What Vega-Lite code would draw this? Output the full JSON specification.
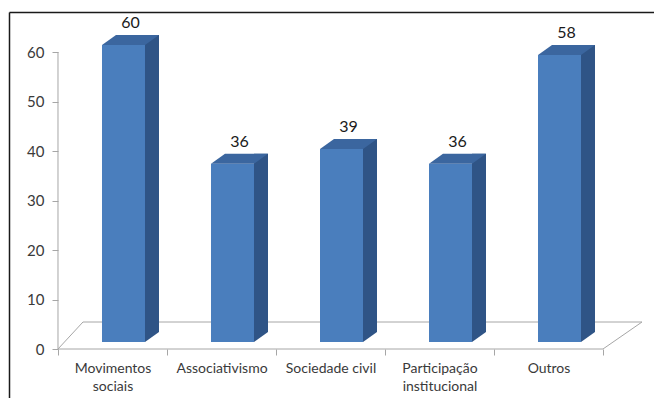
{
  "$schema": "https://vega.github.io/schema/vega-lite/v6.json",
  "width": 645,
  "height": 386,
  "autosize": "none",
  "padding": {"left": 9, "top": 12, "right": 0, "bottom": 0},
  "background": "white",
  "config": {
    "view": {"stroke": null},
    "font": "Lato",
    "axis": {"grid": false}
  },
  "data": {
    "values": [
      {"categoria": "Movimentos sociais", "total": 60},
      {"categoria": "Associativismo", "total": 36},
      {"categoria": "Sociedade civil", "total": 39},
      {"categoria": "Participação institucional", "total": 36},
      {"categoria": "Outros", "total": 58}
    ]
  },
  "layer": [
    {
      "description": "Floor of the 3D plot, also carrying the chart frame (top and left edges)",
      "data": {"values": [{}]},
      "mark": {
        "type": "point",
        "shape": "M0,0 L25,-27 L584,-27 L545,0 Z",
        "size": 4,
        "filled": false,
        "stroke": "#A6A6A6",
        "strokeWidth": 1,
        "opacity": 1,
        "clip": false
      },
      "encoding": {
        "x": {
          "datum": "Movimentos sociais",
          "type": "nominal",
          "bandPosition": 0,
          "axis": {"orient": "top", "offset": 0, "domain": true, "domainColor": "#1A1A1A", "domainWidth": 1.5, "ticks": false, "labels": false, "title": null}
        },
        "y": {
          "datum": 0,
          "type": "quantitative",
          "axis": {"orient": "left", "offset": 0, "domain": true, "domainColor": "#1A1A1A", "domainWidth": 1.5, "ticks": false, "labels": false, "title": null}
        }
      }
    },
    {
      "description": "Vertical value axis line",
      "data": {"values": [{}]},
      "mark": {"type": "rule", "color": "#A6A6A6", "strokeWidth": 1},
      "encoding": {
        "x": {"datum": "Movimentos sociais", "type": "nominal", "bandPosition": 0, "axis": null},
        "y": {"datum": 60, "type": "quantitative", "axis": null},
        "y2": {"datum": 0}
      }
    },
    {
      "description": "Front faces of the columns",
      "mark": {"type": "bar", "width": 43, "xOffset": 11, "yOffset": -7, "y2Offset": -7, "color": "#4A7EBD", "clip": false},
      "encoding": {
        "x": {
          "field": "categoria",
          "type": "nominal",
          "sort": null,
          "scale": {
            "type": "band",
            "domain": ["Movimentos sociais", "Associativismo", "Sociedade civil", "Participação institucional", "Outros"],
            "paddingInner": 0,
            "paddingOuter": 0.4587,
            "align": 0.49
          },
          "axis": {
            "orient": "bottom",
            "offset": -49,
            "domain": false,
            "tickBand": "extent",
            "tickSize": 6,
            "tickColor": "#A6A6A6",
            "labelAngle": 0,
            "labelPadding": 6,
            "labelFontSize": 14,
            "labelColor": "#3A3A3A",
            "labelLineHeight": 18,
            "labelOverlap": false,
            "labelExpr": "length(datum.label) > 16 ? split(datum.label, ' ') : datum.label",
            "title": null
          }
        },
        "y": {
          "field": "total",
          "type": "quantitative",
          "scale": {"domain": [-9.899, 68.081], "nice": false, "zero": false},
          "axis": {
            "orient": "left",
            "offset": -49,
            "domain": false,
            "values": [0, 10, 20, 30, 40, 50, 60],
            "tickSize": 6,
            "tickColor": "#A6A6A6",
            "labelPadding": 8,
            "labelFontSize": 15,
            "labelColor": "#3A3A3A",
            "title": null
          }
        },
        "y2": {"datum": 0}
      }
    },
    {
      "description": "Right side faces of the columns",
      "mark": {"type": "bar", "width": 14, "xOffset": 39.5, "yOffset": -17, "y2Offset": -17, "color": "#2F5486", "clip": false},
      "encoding": {
        "x": {"field": "categoria", "type": "nominal", "sort": null, "axis": null},
        "y": {"field": "total", "type": "quantitative", "axis": null},
        "y2": {"datum": 0}
      }
    },
    {
      "description": "Lower corner of each side face",
      "mark": {"type": "point", "shape": "M0,0 L0,-10 L14,-10 Z", "size": 4, "filled": true, "opacity": 1, "color": "#2F5486", "xOffset": 32.5, "yOffset": -7, "clip": false},
      "encoding": {
        "x": {"field": "categoria", "type": "nominal", "sort": null, "axis": null},
        "y": {"datum": 0, "type": "quantitative", "axis": null}
      }
    },
    {
      "description": "Top faces of the columns",
      "mark": {"type": "point", "shape": "M-21.5,0 L21.5,0 L35.5,-10 L-7.5,-10 Z", "size": 4, "filled": true, "opacity": 1, "color": "#3B669F", "xOffset": 11, "yOffset": -7, "clip": false},
      "encoding": {
        "x": {"field": "categoria", "type": "nominal", "sort": null, "axis": null},
        "y": {"field": "total", "type": "quantitative", "axis": null}
      }
    },
    {
      "description": "Value labels above the columns",
      "mark": {"type": "text", "fontSize": 16, "color": "#1A1A1A", "baseline": "alphabetic", "align": "center", "xOffset": 18, "yOffset": -24, "clip": false},
      "encoding": {
        "x": {"field": "categoria", "type": "nominal", "sort": null, "axis": null},
        "y": {"field": "total", "type": "quantitative", "axis": null},
        "text": {"field": "total", "type": "quantitative"}
      }
    }
  ],
  "resolve": {"axis": {"x": "independent", "y": "independent"}}
}
